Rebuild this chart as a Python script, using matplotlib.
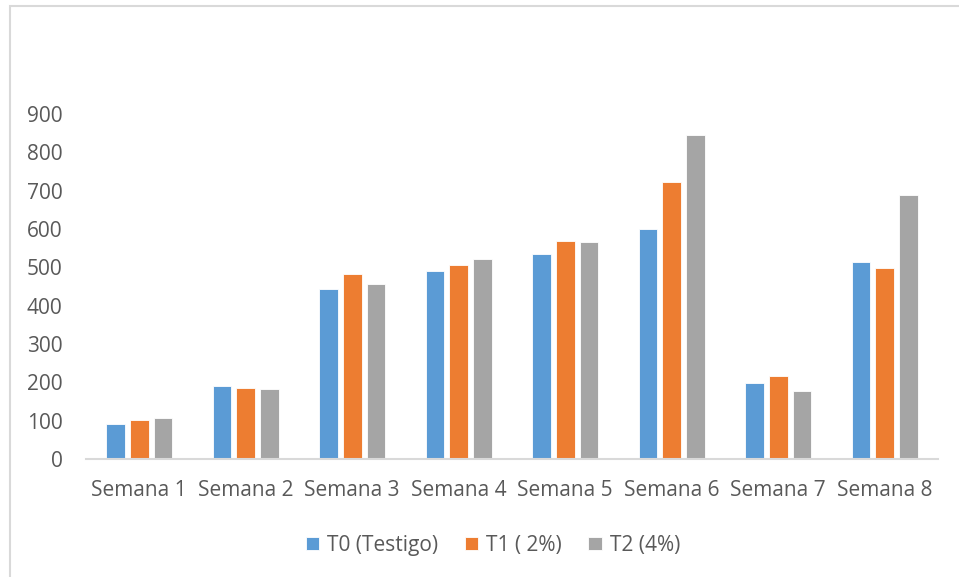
import matplotlib.pyplot as plt
import numpy as np
from matplotlib.patches import Rectangle

plt.rcParams['font.family'] = ['Open Sans', 'DejaVu Sans']

semanas = ['Semana 1', 'Semana 2', 'Semana 3', 'Semana 4',
           'Semana 5', 'Semana 6', 'Semana 7', 'Semana 8']
t0 = [91, 191, 443, 491, 534, 600, 197, 515]
t1 = [101, 184, 482, 506, 568, 722, 216, 498]
t2 = [107, 183, 457, 522, 566, 846, 178, 689]
series = ['T0 (Testigo)', 'T1 ( 2%)', 'T2 (4%)']
colores = ['#5B9BD5', '#ED7D31', '#A5A5A5']

W, H = 959, 577
fig = plt.figure(figsize=(W / 100, H / 100), dpi=100)
ax = fig.add_axes([86 / W, 1 - 459 / H, (938 - 86) / W, (459 - 114) / H])

x = np.arange(len(semanas))
paso = 0.2225
ancho = 0.176
for i, (vals, nombre, c) in enumerate(zip([t0, t1, t2], series, colores)):
    ax.bar(x + (i - 1) * paso, vals, ancho, color=c, label=nombre,
           edgecolor='white', linewidth=0.6)

ax.set_xlim(-0.5, len(semanas) - 0.5)
ax.set_ylim(0, 900)
ax.set_yticks(range(0, 901, 100))
ax.set_xticks(x)
ax.set_xticklabels(semanas)

for s in ['top', 'right', 'left']:
    ax.spines[s].set_visible(False)
ax.spines['bottom'].set_color('#D9D9D9')
ax.spines['bottom'].set_linewidth(1.5)
ax.tick_params(axis='both', length=0, labelsize=15, colors='#595959')
ax.tick_params(axis='y', pad=17)
ax.tick_params(axis='x', pad=15)

fig.legend(loc='center', bbox_to_anchor=(493 / W, 1 - 545 / H), ncol=3,
           frameon=False, fontsize=15, handlelength=0.65, handleheight=0.6,
           handletextpad=0.4, columnspacing=1.25, labelcolor='#595959')

# marco del grafico (solo se ven los bordes superior e izquierdo)
fig.add_artist(Rectangle((10 / W, -0.1), 1.1, 1.1 - 6 / H,
                         transform=fig.transFigure, fill=False,
                         edgecolor='#D9D9D9', linewidth=1.5))

fig.savefig('out.png', dpi=100)
